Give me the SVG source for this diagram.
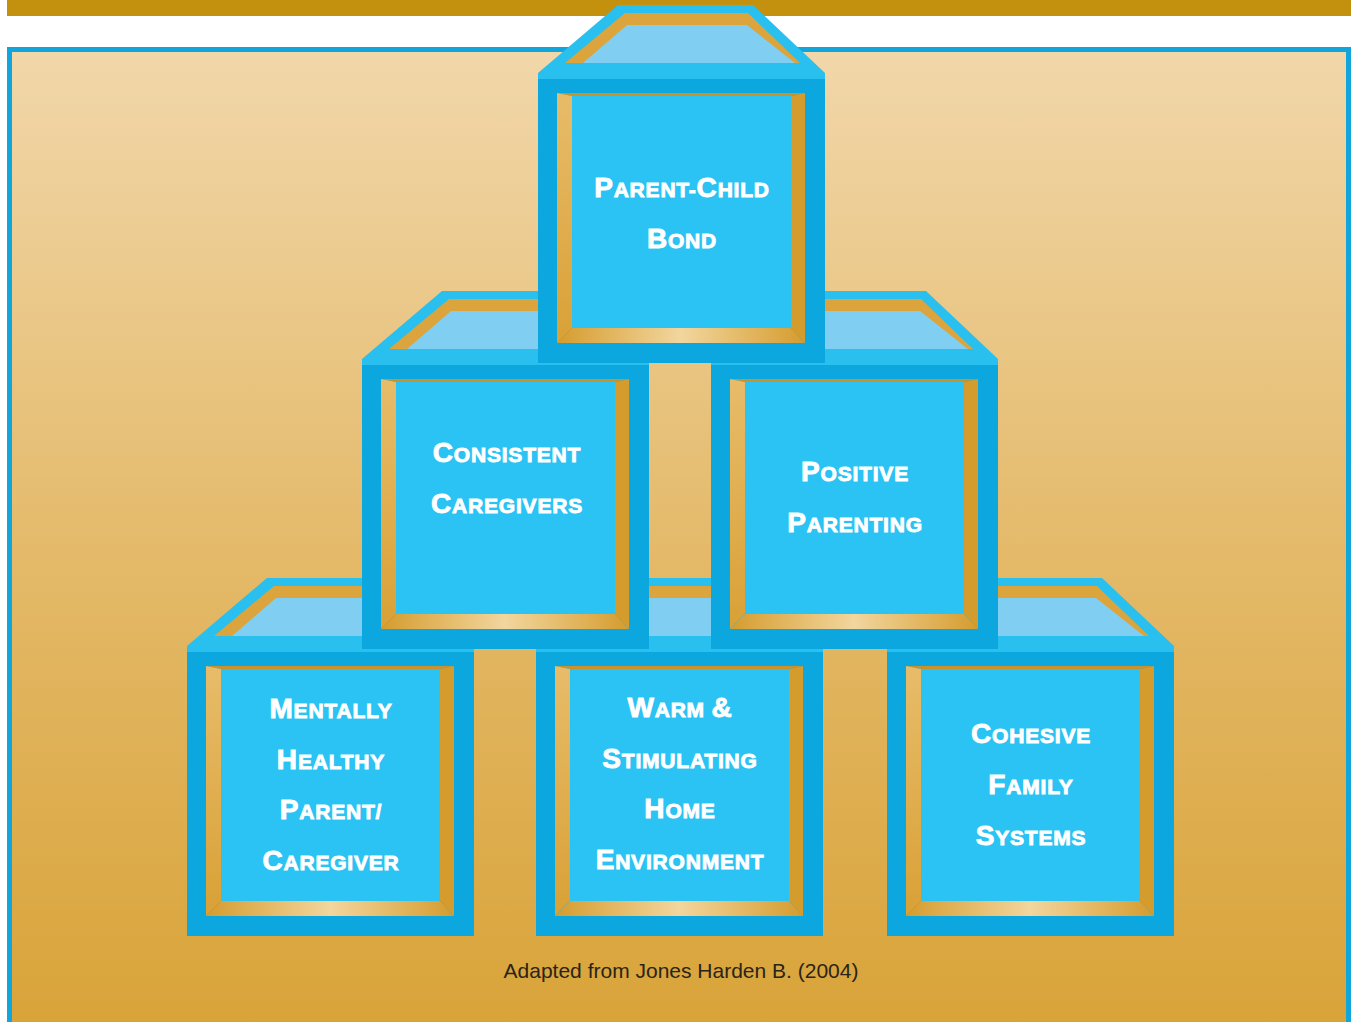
<svg xmlns="http://www.w3.org/2000/svg" width="1351" height="1022" viewBox="0 0 1351 1022">
<style>
.t{fill:#ffffff;stroke:#ffffff;stroke-width:0.9px;font-family:"Liberation Sans",Arial,sans-serif;font-weight:bold;font-size:21px;text-anchor:middle;letter-spacing:0.8px}
.b{font-size:28px}
.cap{fill:#2a2418;font-family:"Liberation Sans",Arial,sans-serif;font-size:21px;text-anchor:middle}
</style>
<defs>
<linearGradient id="bg" x1="0" y1="0" x2="0" y2="1">
<stop offset="0" stop-color="#F1D7AA"/>
<stop offset="0.5" stop-color="#E4BA6A"/>
<stop offset="1" stop-color="#D8A236"/>
</linearGradient>
<linearGradient id="bev" x1="0" y1="0" x2="1" y2="0">
<stop offset="0" stop-color="#D59C2E"/>
<stop offset="0.5" stop-color="#F2D69E"/>
<stop offset="1" stop-color="#D59C2E"/>
</linearGradient>
<linearGradient id="bevL" x1="0" y1="0" x2="0" y2="1">
<stop offset="0" stop-color="#E7BC6A"/>
<stop offset="1" stop-color="#D9A136"/>
</linearGradient>
<g id="cube">
<polygon points="80,0 215,0 287,68 287,74 0,74 0,68" fill="#29BFEF"/>
<rect x="0" y="74" width="287" height="284" fill="#0BA7DE"/>
<polygon points="87,8 210,8 262,58 27,58" fill="#DCA43C"/>
<polygon points="89,20 209,20 257,58 45,58" fill="#80CFF3"/>
<polygon points="19,88 267,88 253,91 34,91" fill="#C9922A"/>
<polygon points="19,88 34,91 34,323 19,338" fill="url(#bevL)"/>
<polygon points="267,88 253,91 253,323 267,338" fill="#D49B2D"/>
<polygon points="19,338 34,323 253,323 267,338" fill="url(#bev)"/>
<rect x="34" y="91" width="219" height="232" fill="#2BC3F3"/>
</g>
</defs>
<rect x="0" y="0" width="1351" height="1022" fill="#ffffff"/>
<rect x="7" y="0" width="1344" height="16" fill="#C4910F"/>
<rect x="9.5" y="49.5" width="1339" height="1000" fill="url(#bg)" stroke="#10A5DB" stroke-width="5"/>
<g id="connectors"></g>
<g id="mentally">
<use href="#cube" x="187" y="578"/>
<text class="t" x="331" y="718"><tspan class="b">M</tspan>ENTALLY</text>
<text class="t" x="331" y="769"><tspan class="b">H</tspan>EALTHY</text>
<text class="t" x="331" y="819"><tspan class="b">P</tspan>ARENT/</text>
<text class="t" x="331" y="870"><tspan class="b">C</tspan>AREGIVER</text>
</g>
<g id="warm">
<use href="#cube" x="536" y="578"/>
<text class="t" x="680" y="717"><tspan class="b">W</tspan>ARM <tspan class="b">&amp;</tspan></text>
<text class="t" x="680" y="768"><tspan class="b">S</tspan>TIMULATING</text>
<text class="t" x="680" y="818"><tspan class="b">H</tspan>OME</text>
<text class="t" x="680" y="869"><tspan class="b">E</tspan>NVIRONMENT</text>
</g>
<g id="cohesive">
<use href="#cube" x="887" y="578"/>
<text class="t" x="1031" y="743"><tspan class="b">C</tspan>OHESIVE</text>
<text class="t" x="1031" y="794"><tspan class="b">F</tspan>AMILY</text>
<text class="t" x="1031" y="845"><tspan class="b">S</tspan>YSTEMS</text>
</g>
<g id="consistent">
<use href="#cube" x="362" y="291"/>
<text class="t" x="507" y="462"><tspan class="b">C</tspan>ONSISTENT</text>
<text class="t" x="507" y="513"><tspan class="b">C</tspan>AREGIVERS</text>
</g>
<g id="positive">
<use href="#cube" x="711" y="291"/>
<text class="t" x="855" y="481"><tspan class="b">P</tspan>OSITIVE</text>
<text class="t" x="855" y="532"><tspan class="b">P</tspan>ARENTING</text>
</g>
<g id="parentchild">
<use href="#cube" x="538" y="5"/>
<text class="t" x="682" y="197"><tspan class="b">P</tspan>ARENT-<tspan class="b">C</tspan>HILD</text>
<text class="t" x="682" y="248"><tspan class="b">B</tspan>OND</text>
</g>
<text class="cap" x="681" y="978">Adapted from Jones Harden B. (2004)</text>
</svg>
